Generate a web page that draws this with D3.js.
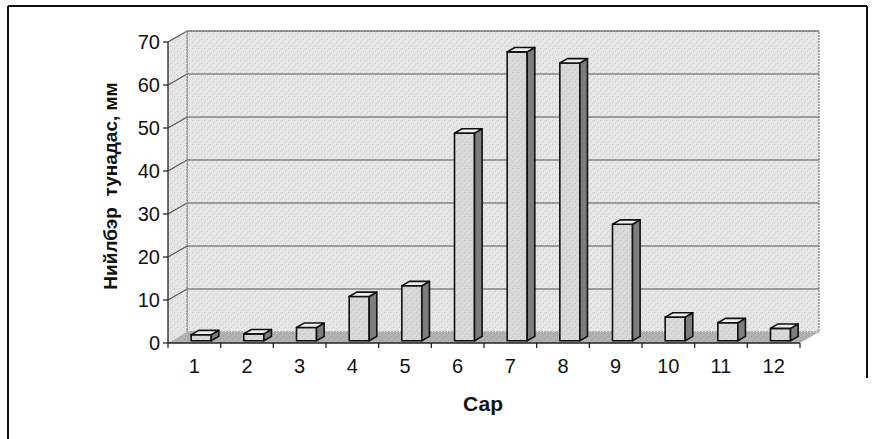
<!DOCTYPE html>
<html>
<head>
<meta charset="utf-8">
<script src="https://cdn.jsdelivr.net/npm/d3@7"></script>
<style>
  html, body { margin: 0; padding: 0; background: #fff; }
  svg { display: block; font-family: "Liberation Sans", Arial, sans-serif; }
</style>
</head>
<body>
<svg id="chart" width="877" height="439"></svg>
<script>
// Monthly total precipitation, mm
const months = ["1", "2", "3", "4", "5", "6", "7", "8", "9", "10", "11", "12"];
const precipitation = [1.4, 1.6, 3.1, 10.3, 12.8, 48.3, 67.2, 64.6, 27.1, 5.5, 4.2, 2.9];
const yTicks = [0, 10, 20, 30, 40, 50, 60, 70];
const xTitle = "Сар";
const yTitle = "Нийлбэр  тунадас, мм";

const svg = d3.select("#chart");

// Front plane of the 3D box and the depth vector toward the back wall
const plotLeft = 168, plotRight = 800;
const y = d3.scaleLinear().domain([0, 70]).range([343, 42]);
const x = d3.scaleBand().domain(months).range([plotLeft, plotRight]);
const depth = { dx: 19, dy: -11 };

// Grainy fills for walls and floor
const defs = svg.append("defs");
function speckle(id, base, dot, seedShift) {
  const p = defs.append("pattern").attr("id", id)
    .attr("patternUnits", "userSpaceOnUse").attr("width", 6).attr("height", 6);
  p.append("rect").attr("width", 6).attr("height", 6).attr("fill", base);
  [[0, 0], [3, 3], [1, 4], [4, 1]].forEach(([a, b], i) => {
    p.append("rect").attr("x", (a + seedShift) % 6).attr("y", b).attr("width", 1).attr("height", 1)
      .attr("fill", dot).attr("opacity", i < 2 ? 0.7 : 0.4);
  });
}
speckle("wallFill", "#e6e6e6", "#bcbcbc", 0);
speckle("floorFill", "#b2b2b2", "#8e8e8e", 1);
speckle("barFill", "#d9d9d9", "#b4b4b4", 2);

// Outer frame
const frame = svg.append("g").attr("stroke", "#111").attr("stroke-width", 2).attr("fill", "none");
frame.append("line").attr("x1", 8).attr("y1", 6).attr("x2", 867).attr("y2", 6);
frame.append("line").attr("x1", 8).attr("y1", 6).attr("x2", 8).attr("y2", 439);
frame.append("line").attr("x1", 867).attr("y1", 6).attr("x2", 867).attr("y2", 378);

const pt = (px, py, f = 1) => [px + depth.dx * f, py + depth.dy * f];
const poly = pts => "M" + pts.map(p => p.join(",")).join("L") + "Z";

// Back wall
const y0 = y(0), yTop = y(70);
const backTL = pt(plotLeft, yTop), backBR = pt(plotRight, y0);
svg.append("path")
  .attr("d", poly([backTL, pt(plotRight, yTop), backBR, pt(plotLeft, y0)]))
  .attr("fill", "url(#wallFill)").attr("stroke", "#777").attr("stroke-width", 1.2)
  .attr("stroke-dasharray", "2,1");

// Side wall
svg.append("path")
  .attr("d", poly([[plotLeft, yTop], backTL, pt(plotLeft, y0), [plotLeft, y0]]))
  .attr("fill", "url(#wallFill)").attr("stroke", "none");

// Floor
svg.append("path")
  .attr("d", poly([[plotLeft, y0], [plotRight, y0], backBR, pt(plotLeft, y0)]))
  .attr("fill", "url(#floorFill)").attr("stroke", "none");

// Gridlines on side and back walls
const grid = svg.append("g").attr("stroke", "#555").attr("stroke-width", 1.2).attr("fill", "none");
yTicks.filter(t => t > 0).forEach(t => {
  const a = [plotLeft, y(t)], b = pt(plotLeft, y(t)), c = pt(plotRight, y(t));
  grid.append("path").attr("d", "M" + a + "L" + b + "L" + c);
});
grid.append("line").attr("stroke", "#888").attr("stroke-dasharray", "2,1")
  .attr("x1", backTL[0]).attr("y1", backTL[1]).attr("x2", backTL[0]).attr("y2", pt(plotLeft, y0)[1]);

// Bars: front face shifted a little into the depth, box depth 0.4 of the floor
const f0 = 0.2, f1 = 0.6;
const bw = x.bandwidth();
const barW = bw * 0.38;
const bars = svg.append("g").attr("stroke", "#111").attr("stroke-width", 1.6).attr("stroke-linejoin", "round");
months.forEach((m, i) => {
  const v = precipitation[i];
  const left = x(m) + bw * 0.44;
  const right = left + barW;
  const yb = y(0) + depth.dy * f0;
  const yt = y(v) + depth.dy * f0;
  const ddx = depth.dx * (f1 - f0), ddy = depth.dy * (f1 - f0);
  const g = bars.append("g");
  g.append("path").attr("fill", "url(#barFill)")
    .attr("d", poly([[left, yt], [right, yt], [right, yb], [left, yb]]));
  g.append("path").attr("fill", "#7d7d7d")
    .attr("d", poly([[right, yt], [right + ddx, yt + ddy], [right + ddx, yb + ddy], [right, yb]]));
  g.append("path").attr("fill", "#efefef")
    .attr("d", poly([[left, yt], [left + ddx, yt + ddy], [right + ddx, yt + ddy], [right, yt]]));
});

// Value axis (front)
const axisG = svg.append("g").attr("stroke", "#222").attr("stroke-width", 1.3);
axisG.append("line").attr("x1", plotLeft).attr("y1", yTop).attr("x2", plotLeft).attr("y2", y0);
axisG.selectAll(".yt").data(yTicks).join("line")
  .attr("x1", plotLeft - 5).attr("x2", plotLeft).attr("y1", d => y(d)).attr("y2", d => y(d));
svg.append("g").selectAll("text").data(yTicks).join("text")
  .attr("x", 160).attr("y", d => y(d)).attr("dy", "0.36em")
  .attr("text-anchor", "end").attr("font-size", 20).attr("fill", "#111")
  .text(d => d);

// Category axis (front)
axisG.append("line").attr("x1", plotLeft).attr("y1", y0).attr("x2", plotRight).attr("y2", y0);
const bounds = months.map(m => x(m)).concat([plotRight]);
axisG.selectAll(".xt").data(bounds).join("line")
  .attr("x1", d => d).attr("x2", d => d).attr("y1", y0).attr("y2", y0 + 5);
svg.append("g").selectAll("text").data(months).join("text")
  .attr("x", d => x(d) + bw / 2).attr("y", 373)
  .attr("text-anchor", "middle").attr("font-size", 20).attr("fill", "#111")
  .text(d => d);

// Axis titles
svg.append("text").attr("x", 483).attr("y", 411).attr("text-anchor", "middle")
  .attr("font-size", 21).attr("font-weight", "bold").attr("fill", "#111").text(xTitle);
svg.append("text").attr("transform", "translate(117,186) rotate(-90)")
  .attr("text-anchor", "middle").attr("font-size", 19).attr("font-weight", "bold")
  .attr("fill", "#111").attr("xml:space", "preserve").style("white-space", "pre")
  .text(yTitle);
</script>
</body>
</html>
